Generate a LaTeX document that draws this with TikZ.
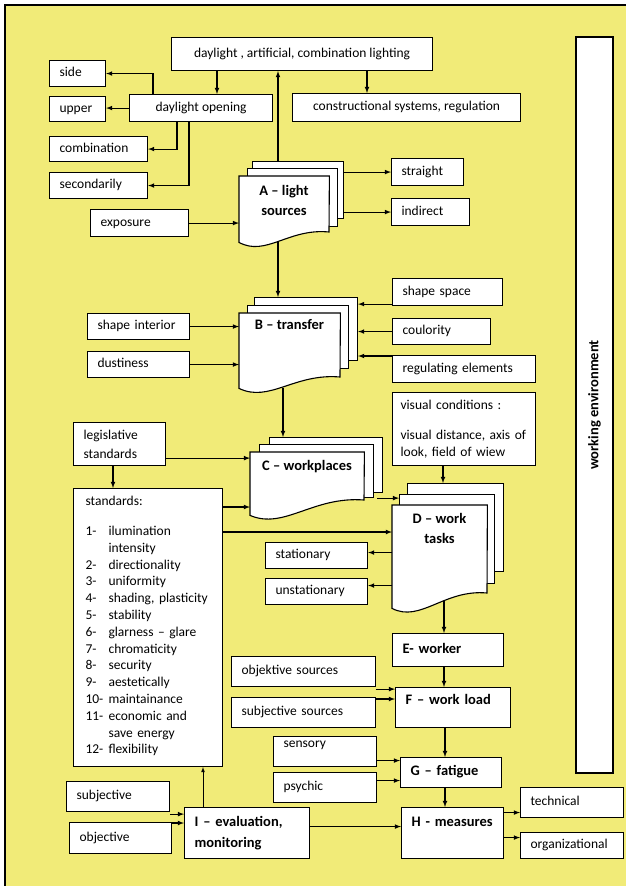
\documentclass[tikz,border=0pt]{standalone}
\usepackage{fontspec}
\setmainfont{Carlito}
\usepackage{tikz}
\usetikzlibrary{arrows}

\definecolor{envyellow}{RGB}{241,235,120}

\tikzset{
  box/.style={draw, fill=white, line width=1.1pt, anchor=north west, inner xsep=10pt, inner ysep=0pt, align=left},
  sbox/.style={box, text height=9.5pt, text depth=3pt},
  cbox/.style={sbox, align=center},
  stage/.style={sbox, font=\fontsize{14.5}{20.5}\selectfont\bfseries},
  sheet/.style={draw, fill=white, line width=1.1pt},
  page/.style={sheet, anchor=north west, inner sep=0pt},
  front/.style={anchor=north west, inner sep=0pt},
  title/.style={anchor=north, inner sep=0pt, align=center, font=\fontsize{14.5}{20.5}\selectfont\bfseries},
  link/.style={->, >=latex, line width=1.1pt},
}

\begin{document}
\begin{tikzpicture}[x=1pt, y=-1pt, font=\fontsize{13.5}{16.8}\selectfont]
\useasboundingbox (0,0) rectangle (626,886);
\fill[white] (0,0) rectangle (626,886);
\clip (0,0) rectangle (626,886);
\draw[line width=1.5pt, fill=envyellow] (5,5) rectangle (640,900);

% boxes
\node[cbox, minimum width=261pt, minimum height=33pt] (lighting) at (171,37) {daylight , artificial, combination lighting};
\node[sbox, text width=36pt, minimum height=26pt] (side) at (49,60) {side};
\node[sbox, text width=36pt, minimum height=25pt] (upper) at (49,96) {upper};
\node[cbox, minimum width=143pt, minimum height=27pt] (dopen) at (129,94) {daylight opening};
\node[sbox, text width=78pt, minimum height=25pt] (comb) at (49,136) {combination};
\node[sbox, text width=78pt, minimum height=26pt] (second) at (49,172) {secondarily};
\node[sbox, text width=78pt, minimum height=27pt] (expos) at (90,209) {exposure};
\node[cbox, minimum width=228pt, minimum height=28pt] (constr) at (292,93) {constructional systems, regulation};
\node[sbox, text width=52pt, minimum height=27pt] (straight) at (391,158) {straight};
\node[sbox, text width=58pt, minimum height=27pt] (indir) at (391,198) {indirect};
\node[sbox, text width=82pt, minimum height=26pt] (shapeint) at (87,313) {shape interior};
\node[sbox, text width=82pt, minimum height=26pt] (dust) at (87,351) {dustiness};
\node[sbox, text width=90pt, minimum height=27pt] (shapesp) at (392,278) {shape space};
\node[sbox, text width=78pt, minimum height=26pt] (coul) at (392,318) {coulority};
\node[sbox, text width=123pt, minimum height=27pt] (regul) at (392,355) {regulating elements};
\node[box, text width=127pt, inner xsep=8pt, minimum height=73pt] (visual) at (392,392) {visual conditions :\\[13pt]visual distance, axis of\\look, field of wiew};
\node[box, text width=72pt, minimum height=43pt] (legis) at (73,422) {legislative\\[2pt]standards};
\node[box, text width=125pt, inner xsep=12pt, minimum height=278pt] (stand) at (73,488) {standards:\\[13pt]
\begin{tabular}[t]{@{}p{23pt}@{}l@{}}
1- & ilumination\\
 & intensity\\
2- & directionality\\
3- & uniformity\\
4- & shading, plasticity\\
5- & stability\\
6- & glarness -- glare\\
7- & chromaticity\\
8- & security\\
9- & aestetically\\
10- & maintainance\\
11- & economic and\\
 & save energy\\
12- & flexibility
\end{tabular}};
\node[sbox, text width=82pt, minimum height=26pt] (stat) at (265,542) {stationary};
\node[sbox, text width=82pt, minimum height=26pt] (unstat) at (265,578) {unstationary};
\node[stage, text width=91pt, minimum height=33pt] (E) at (392,633) {E- worker};
\node[sbox, text width=124pt, minimum height=30pt] (objsrc) at (231,656) {objektive sources};
\node[sbox, text width=124pt, minimum height=30pt] (subjsrc) at (231,697) {subjective sources};
\node[stage, text width=95pt, minimum height=40pt, text depth=15pt] (F) at (395,687) {F – work load};
\node[sbox, text width=83pt, minimum height=30pt, text depth=17pt] (sensory) at (273,736) {sensory};
\node[sbox, text width=83pt, minimum height=30pt] (psychic) at (273,772) {psychic};
\node[stage, text width=81pt, minimum height=30pt] (G) at (400,757) {G – fatigue};
\node[stage, text width=82pt, minimum height=51pt, text depth=23pt] (H) at (401,807) {H - measures};
\node[sbox, text width=83pt, minimum height=30pt] (techn) at (520,787) {technical};
\node[sbox, text width=83pt, minimum height=26pt] (organ) at (520,832) {organizational};
\node[sbox, text width=83pt, minimum height=30pt] (subj) at (66,781) {subjective};
\node[sbox, text width=82pt, minimum height=31pt] (obj) at (69,822) {objective};
\node[box, font=\fontsize{14.5}{20.5}\selectfont\bfseries, text width=105pt, minimum height=51pt] (I) at (184,807) {I – evaluation,\\monitoring};
\node[draw, fill=white, line width=1.1pt, rotate=90, minimum width=736pt, minimum height=37pt, inner sep=0pt, font=\fontsize{14.5}{17}\selectfont\bfseries] (workenv) at (594.5,405) {working environment};

% A - light sources
\node[page, minimum width=91pt, minimum height=57pt] (A3) at (252,161) {};
\node[page, minimum width=90pt, minimum height=58pt] (A2) at (247,168) {};
\node[front, minimum width=90pt, minimum height=66pt] (A) at (239,176) {};
\draw[sheet] (A.north west) -- (A.north east) -- (329,232) .. controls (288.5,228) and (266,257) .. (A.south west) -- cycle;
\node[title] (At) at (284,184.7) {A – light\\sources};

% B - transfer
\node[page, minimum width=103pt, minimum height=63pt] (B3) at (254,297) {};
\node[page, minimum width=101pt, minimum height=63pt] (B2) at (247,305) {};
\node[front, minimum width=101pt, minimum height=75pt] (B) at (239,313) {};
\draw[sheet] (B.north west) -- (B.north east) -- (340,377) .. controls (294.5,373) and (269.3,403) .. (B.south west) -- cycle;
\node[title] (Bt) at (289.5,319.7) {B – transfer};

% C - workplaces
\node[page, minimum width=113pt, minimum height=55pt] (C3) at (269,437) {};
\node[page, minimum width=114pt, minimum height=53pt] (C2) at (259,444) {};
\node[front, minimum width=114pt, minimum height=63pt] (C) at (250,452) {};
\draw[sheet] (C.north west) -- (C.north east) -- (364,500) .. controls (312.7,496) and (284.2,530) .. (C.south west) -- cycle;
\node[title] (Ct) at (307,459.7) {C – workplaces};

% D - work tasks
\node[page, minimum width=96pt, minimum height=88pt] (D3) at (407,483) {};
\node[page, minimum width=95pt, minimum height=89pt] (D2) at (399,494) {};
\node[front, minimum width=95pt, minimum height=103pt] (D) at (392,505) {};
\draw[sheet] (D.north west) -- (D.north east) -- (487,593) .. controls (444.3,589) and (420.5,623) .. (D.south west) -- cycle;
\node[title] (Dt) at (439.5,512.7) {D – work\\tasks};

% connectors
\draw[link] (217,0 |- lighting.south) -- (217,0 |- dopen.north);
\draw[link] (278,0 |- A3.north) -- (278,0 |- lighting.south);
\draw[link] (367,0 |- lighting.south) -- (367,0 |- constr.north);
\draw[link] (153,0 |- dopen.north) |- (side.east);
\draw[link] (dopen.west) -- (dopen.west -| upper.east);
\draw[link] (177,0 |- dopen.south) |- (comb.east);
\draw[link] (189,0 |- dopen.south) |- (second.east);
\draw[link] (expos.east) -- (expos.east -| A.west);
\draw[link] (straight.west -| A3.east) -- (straight.west);
\draw[link] (indir.west -| A3.east) -- (indir.west);
\draw[link] (278,0 |- A.south) -- (278,0 |- B3.north);
\draw[link] (shapeint.east) -- (shapeint.east -| B.west);
\draw[link] (dust.east) -- (dust.east -| B.west);
\draw[link] ([yshift=2pt]shapesp.south west) -- ([yshift=2pt]shapesp.south west -| B3.east);
\draw[link] (coul.west) -- (coul.west -| B3.east);
\draw[link] ([yshift=-1pt]regul.north west) -- ([yshift=-1pt]regul.north west -| B3.east);
\draw[link] (283,0 |- B.south) -- (283,0 |- C3.north);
\draw[link] (443,0 |- visual.south) -- (443,0 |- D3.north);
\draw[link] ([yshift=8pt]legis.south east) -- ([yshift=8pt]legis.south east -| C.west);
\draw[link] (113,0 |- legis.south) -- (113,0 |- stand.north);
\draw[link] ([yshift=-19pt]stand.north east) -- ([yshift=-19pt]stand.north east -| C.west);
\draw[link] ([yshift=-44pt]stand.north east) -- ([yshift=-44pt]stand.north east -| D.west);
\draw[link] ([xshift=3pt]C2.south east) -- (C2.south east -| D2.west);
\draw[link] ([yshift=3pt]stat.east -| D.west) -- ([yshift=3pt]stat.east);
\draw[link] ([yshift=6pt]unstat.east -| D.west) -- ([yshift=6pt]unstat.east);
\draw[link] ([yshift=7pt]444,0 |- D.south) -- (444,0 |- E.north);
\draw[link] (444,0 |- E.south) -- (444,0 |- F.north);
\draw[link] ([yshift=-2pt]objsrc.south east) -- ([yshift=-2pt]objsrc.south east -| F.west);
\draw[link] ([yshift=-2pt]subjsrc.north east) -- ([yshift=-2pt]subjsrc.north east -| F.west);
\draw[link] (445,0 |- F.south) -- (445,0 |- G.north);
\draw[link] ([yshift=-9pt]sensory.east) -- ([yshift=-9pt]sensory.east -| G.west);
\draw[link] ([yshift=7pt]psychic.east) -- ([yshift=7pt]psychic.east -| G.west);
\draw[link] (445,0 |- G.south) -- (445,0 |- H.north);
\draw[link] ([yshift=-10pt]techn.west -| H.east) -- ([yshift=-10pt]techn.west);
\draw[link] ([yshift=8pt]organ.west -| H.east) -- ([yshift=8pt]organ.west);
\draw[link] ([yshift=-2pt]subj.south east) -- ([yshift=-2pt]subj.south east -| I.west);
\draw[link] ([yshift=-1pt]obj.north east) -- ([yshift=-1pt]obj.north east -| I.west);
\draw[->, >=latex, line width=0.7pt] (203,0 |- I.north) -- (203,0 |- stand.south);
\draw[link] ([yshift=6.5pt]I.east) -- ([yshift=6.5pt]I.east -| H.west);
\end{tikzpicture}
\end{document}
